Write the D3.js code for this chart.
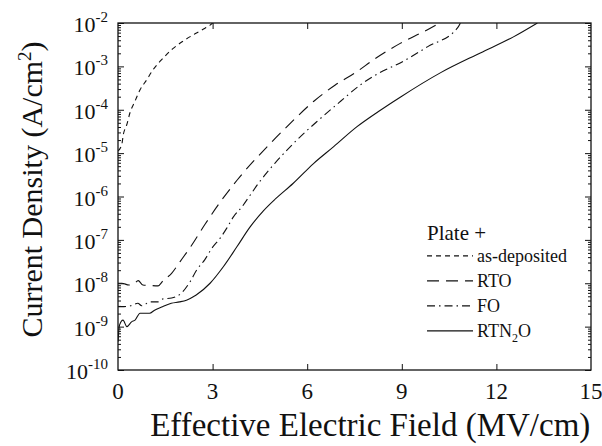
<!DOCTYPE html>
<html>
<head>
<meta charset="utf-8">
<script src="https://cdn.jsdelivr.net/npm/d3@7"></script>
<style>
  body { margin: 0; background: #fff; }
  text { font-family: 'Liberation Serif', 'Times New Roman', serif; fill: #111; }
</style>
</head>
<body>
<div id="chart"></div>
<script>
// field values (MV/cm) and log10 of current density (A/cm^2)
let asDepE    = [0, 0.12, 0.17, 0.28, 0.38, 0.54, 0.70, 0.91, 1.11, 1.43, 1.74, 2.06, 2.44, 2.76, 2.92, 3.0];
let asDepLogJ = [-4.95, -4.8, -4.57, -4.34, -4.07, -3.8, -3.54, -3.31, -3.08, -2.81, -2.59, -2.42, -2.25, -2.12, -2.05, -2.0];

let rtoE    = [0, 0.12, 0.35, 0.5, 0.64, 0.79, 1.0, 1.27, 1.43, 1.7, 1.97, 2.32, 2.76, 3.24, 3.78, 4.88, 5.51, 6.2, 6.89, 7.58, 8.1, 8.95, 9.8, 10.2];
let rtoLogJ = [-8.0, -8.0, -8.04, -8.02, -7.94, -8.04, -8.05, -8.06, -7.94, -7.77, -7.5, -7.14, -6.64, -6.13, -5.62, -4.74, -4.28, -3.81, -3.43, -3.12, -2.85, -2.47, -2.16, -2.0];

let foE    = [0, 0.12, 0.4, 0.63, 0.75, 1.02, 1.27, 1.43, 1.7, 2.02, 2.29, 2.5, 2.76, 2.97, 3.24, 3.45, 3.66, 3.93, 4.19, 4.45, 4.72, 4.98, 5.67, 6.36, 7.05, 7.68, 8.26, 8.95, 9.81, 10.76, 10.86];
let foLogJ = [-8.54, -8.54, -8.52, -8.46, -8.52, -8.43, -8.43, -8.36, -8.34, -8.22, -7.96, -7.69, -7.45, -7.2, -6.96, -6.73, -6.47, -6.24, -5.97, -5.7, -5.45, -5.23, -4.70, -4.24, -3.81, -3.43, -3.16, -2.92, -2.55, -2.12, -2.0];

let rtnE    = [0, 0.05, 0.16, 0.28, 0.43, 0.54, 0.7, 1.0, 1.16, 1.41, 1.69, 1.95, 2.17, 2.29, 2.48, 2.92, 3.34, 3.77, 4.19, 4.61, 5.0, 5.55, 6.2, 6.84, 7.58, 8.26, 8.95, 10.22, 11.49, 12.54, 13.3];
let rtnLogJ = [-9.35, -8.96, -8.85, -9.0, -8.89, -8.85, -8.69, -8.69, -8.62, -8.54, -8.46, -8.43, -8.39, -8.35, -8.27, -8.0, -7.62, -7.16, -6.70, -6.33, -6.05, -5.7, -5.24, -4.85, -4.39, -4.04, -3.71, -3.15, -2.69, -2.32, -2.0];

let seriesNames = ['as-deposited', 'RTO', 'FO', 'RTN2O'];
let dashes = ['5,4', '12,7', '8,4,1.5,4', null];

let xTicks = [0, 3, 6, 9, 12, 15];
let yExps = [-2, -3, -4, -5, -6, -7, -8, -9, -10];

let margin = { top: 23, right: 11, bottom: 76, left: 118 },
  width = 602 - margin.left - margin.right,
  height = 446 - margin.top - margin.bottom;

let svg = d3.select('#chart')
  .append('svg')
  .attr('width', 602)
  .attr('height', 446)
  .append('g')
  .attr('transform', `translate(${margin.left}, ${margin.top})`);

let x = d3.scaleLinear().domain([0, 15]).range([0, width]);
let y = d3.scaleLog().domain([1e-10, 1e-2]).range([height, 0]);

svg.append('clipPath').attr('id', 'clip')
  .append('rect').attr('width', width).attr('height', height);

// minor + major ticks on the log axis
let minorVals = [];
for (let e = -10; e < -2; e++) {
  for (let m = 2; m <= 9; m++) minorVals.push(m * Math.pow(10, e));
}
let majorVals = yExps.map(e => Math.pow(10, e));

function styleAxis(g) {
  g.select('.domain').remove();
  g.selectAll('line').attr('stroke', '#111').attr('stroke-width', 1);
  g.selectAll('text').remove();
}

svg.append('g').call(d3.axisLeft(y).tickValues(minorVals).tickSize(-3)).call(styleAxis);
svg.append('g').call(d3.axisLeft(y).tickValues(majorVals).tickSize(-6)).call(styleAxis);
svg.append('g').attr('transform', `translate(${width},0)`)
  .call(d3.axisRight(y).tickValues(minorVals).tickSize(-3)).call(styleAxis);
svg.append('g').attr('transform', `translate(${width},0)`)
  .call(d3.axisRight(y).tickValues(majorVals).tickSize(-6)).call(styleAxis);

let innerX = xTicks.slice(1, -1);
svg.append('g').attr('transform', `translate(0,${height})`)
  .call(d3.axisBottom(x).tickValues(innerX).tickSize(-6)).call(styleAxis);
svg.append('g')
  .call(d3.axisTop(x).tickValues(innerX).tickSize(-6)).call(styleAxis);

svg.append('rect')
  .attr('width', width).attr('height', height)
  .attr('fill', 'none').attr('stroke', '#111').attr('stroke-width', 1.3);

// tick labels
svg.selectAll('.xlab').data(xTicks).enter()
  .append('text')
  .attr('class', 'xlab')
  .attr('x', d => x(d))
  .attr('y', height + 29)
  .attr('text-anchor', 'middle')
  .style('font-size', '23px')
  .text(d => d);

let ylab = svg.selectAll('.ylab').data(yExps).enter()
  .append('text')
  .attr('class', 'ylab')
  .attr('x', -10)
  .attr('y', d => y(Math.pow(10, d)) + 9)
  .attr('text-anchor', 'end')
  .style('font-size', '22px');
ylab.append('tspan').text('10');
ylab.append('tspan').attr('dy', -10).style('font-size', '15px').text(d => d);

// curves
let line = d3.line()
  .x(d => x(d[0]))
  .y(d => y(Math.pow(10, d[1])))
  .curve(d3.curveMonotoneX);

let series = [
  d3.zip(asDepE, asDepLogJ),
  d3.zip(rtoE, rtoLogJ),
  d3.zip(foE, foLogJ),
  d3.zip(rtnE, rtnLogJ)
];

svg.append('g').attr('clip-path', 'url(#clip)')
  .selectAll('path').data(series).enter()
  .append('path')
  .attr('d', line)
  .attr('fill', 'none')
  .attr('stroke', '#111')
  .attr('stroke-width', 1.1)
  .attr('stroke-dasharray', (d, i) => dashes[i]);

// legend
let leg = svg.append('g').attr('transform', `translate(${x(9.8)}, ${y(1e-7)})`);
leg.append('text').attr('x', 0).attr('y', 0).style('font-size', '21px').text('Plate +');

let rows = leg.selectAll('.row').data(seriesNames).enter()
  .append('g')
  .attr('class', 'row')
  .attr('transform', (d, i) => `translate(0, ${16 + i * 25})`);

rows.append('line')
  .attr('x1', 0).attr('x2', 46)
  .attr('y1', 0).attr('y2', 0)
  .attr('stroke', '#111')
  .attr('stroke-width', 1.1)
  .attr('stroke-dasharray', (d, i) => dashes[i]);

let lt = rows.append('text')
  .attr('x', 50).attr('y', 6)
  .style('font-size', '18px');
lt.each(function(d) {
  let t = d3.select(this);
  if (d === 'RTN2O') {
    t.append('tspan').text('RTN');
    t.append('tspan').attr('dy', 5).style('font-size', '12px').text('2');
    t.append('tspan').attr('dy', -5).text('O');
  } else {
    t.text(d);
  }
});

// axis titles
svg.append('text')
  .attr('transform', `translate(-76, ${height / 2 - 7}) rotate(-90)`)
  .attr('text-anchor', 'middle')
  .style('font-size', '30px')
  .html('Current Density (A/cm<tspan dy="-11" style="font-size:19px">2</tspan><tspan dy="11">)</tspan>');

svg.append('text')
  .attr('x', x(8))
  .attr('y', height + 66)
  .attr('text-anchor', 'middle')
  .style('font-size', '33px')
  .text('Effective Electric Field (MV/cm)');
</script>
</body>
</html>
